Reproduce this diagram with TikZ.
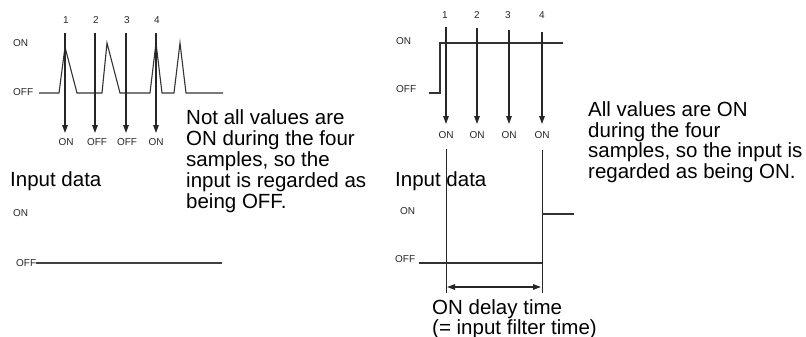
\documentclass[tikz,border=0pt]{standalone}
\usepackage{fontspec}
\setmainfont{Liberation Sans}
\usetikzlibrary{arrows.meta}
\tikzset{
  small/.style={font=\fontsize{10}{12}\selectfont, inner sep=0pt, text=black!85},
  big/.style={font=\fontsize{20.5}{21}\selectfont, inner sep=0pt, anchor=base west},
  wave/.style={line width=1.1pt, draw=black!80, line join=miter},
  sample/.style={line width=1.3pt, draw=black!85, -{Triangle[length=8pt,width=5.5pt]}},
  vline/.style={line width=1pt, draw=black!85},
  dim/.style={line width=1.3pt, draw=black!85, {Triangle[length=8pt,width=5.5pt]}-{Triangle[length=8pt,width=5.5pt]}}
}
\begin{document}
\begin{tikzpicture}[x=1pt,y=-1pt]
\useasboundingbox (0,0) rectangle (806,337);

% ---------------- Left panel ----------------
\node[small, anchor=west] (lon) at (13,43) {ON};
\node[small, anchor=west] (loff) at (13,92) {OFF};
\node[small] (ln1) at (66,20) {1};
\node[small] (ln2) at (96,20) {2};
\node[small] (ln3) at (127,20) {3};
\node[small] (ln4) at (157,20) {4};
\node[small] (lb1) at (66,142) {ON};
\node[small] (lb2) at (97,142) {OFF};
\node[small] (lb3) at (127,142) {OFF};
\node[small] (lb4) at (156,142) {ON};

\draw[wave] (39,93) -- (59,93) -- (65,47) -- (77,93) -- (102,93) -- (107,43) -- (120,93)
  -- (150,93) -- (156,43) -- (162,93) -- (174,93) -- (180,43) -- (186,93) -- (223,93);

\coordinate (la1) at (65,33);  \coordinate (le1) at (65,133);
\coordinate (la2) at (95,33);  \coordinate (le2) at (95,133);
\coordinate (la3) at (126,33); \coordinate (le3) at (126,133);
\coordinate (la4) at (156,33); \coordinate (le4) at (156,133);
\draw[sample] (la1) -- (le1);
\draw[sample] (la2) -- (le2);
\draw[sample] (la3) -- (le3);
\draw[sample] (la4) -- (le4);

\node[big] (lt1) at (186,124) {Not all values are};
\node[big] (lt2) at (186,145) {ON during the four};
\node[big] (lt3) at (186,166) {samples, so the};
\node[big] (lt4) at (186,187) {input is regarded as};
\node[big] (lt5) at (186,208) {being OFF.};

\node[big] (lin) at (10,186) {Input data};
\node[small, anchor=west] (lon2) at (13,213) {ON};
\node[small, anchor=west] (loff2) at (16,263) {OFF};
\coordinate (lend) at (222,263);
\draw[line width=1.2pt, draw=black!75] (loff2.east) -- (lend);

% ---------------- Right panel ----------------
\node[small, anchor=west] (ron) at (396,41) {ON};
\node[small, anchor=west] (roff) at (396,89) {OFF};
\node[small] (rn1) at (445,15) {1};
\node[small] (rn2) at (477,15) {2};
\node[small] (rn3) at (508,15) {3};
\node[small] (rn4) at (542,15) {4};
\node[small] (rb1) at (446,135) {ON};
\node[small] (rb2) at (477,135) {ON};
\node[small] (rb3) at (509,135) {ON};
\node[small] (rb4) at (542,135) {ON};

\draw[wave] (429,93) -- (440,93) -- (440,43) -- (563,43);

\coordinate (ra1) at (446,27); \coordinate (re1) at (446,124);
\coordinate (ra2) at (477,28); \coordinate (re2) at (477,124);
\coordinate (ra3) at (509,30); \coordinate (re3) at (509,124);
\coordinate (ra4) at (542,32); \coordinate (re4) at (542,124);
\draw[sample] (ra1) -- (re1);
\draw[sample] (ra2) -- (re2);
\draw[sample] (ra3) -- (re3);
\draw[sample] (ra4) -- (re4);

\node[big] (rt1) at (588,117) {All values are ON};
\node[big] (rt2) at (588,137.3) {during the four};
\node[big] (rt3) at (588,157.7) {samples, so the input is};
\node[big] (rt4) at (588,178) {regarded as being ON.};

\node[big] (rin) at (395,186) {Input data};
\node[small, anchor=west] (ron2) at (400,211) {ON};
\node[small, anchor=west] (roff2) at (395,259) {OFF};

\coordinate (v1t) at (446,149); \coordinate (v1b) at (446,293);
\coordinate (v4t) at (542,150); \coordinate (v4b) at (542,293);
\draw[vline] (v1t) -- (v1b);
\draw[vline] (v4t) -- (v4b);

\coordinate (offs) at (419,263); \coordinate (offe) at (542,263);
\draw[wave] (offs) -- (offe);
\coordinate (ons) at (542,214); \coordinate (one) at (574,214);
\draw[wave] (ons) -- (one);

\coordinate (d1) at (447,287); \coordinate (d2) at (541,287);
\draw[dim] (d1) -- (d2);

\node[big] (dt1) at (432,314) {ON delay time};
\node[big] (dt2) at (432,334) {(= input filter time)};
\end{tikzpicture}
\end{document}
